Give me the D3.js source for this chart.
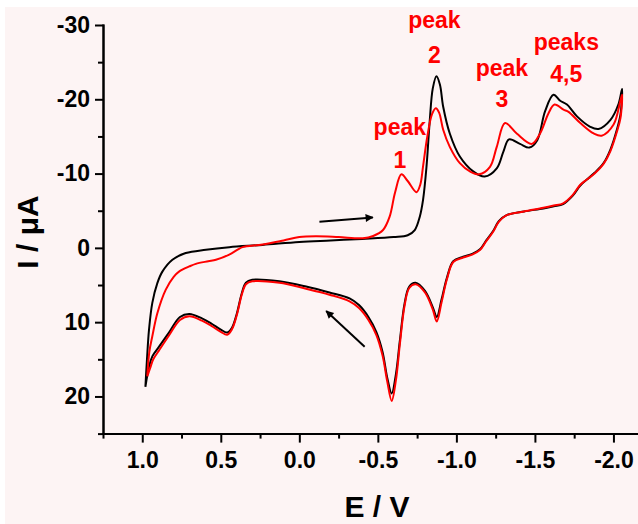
<!DOCTYPE html>
<html>
<head>
<meta charset="utf-8">
<script src="https://cdn.jsdelivr.net/npm/d3@7"></script>
<style>
  html, body { margin: 0; padding: 0; background: #fff; }
  svg { display: block; }
  .axis path, .axis line { stroke: #000; stroke-width: 2; }
  .axis text { font-family: "Liberation Sans", Arial, sans-serif; font-weight: bold; font-size: 23px; fill: #000; }
</style>
</head>
<body>
<svg id="chart" width="638" height="524"></svg>
<script>
// black trace (E / V, I / uA), forward scan then return scan
var blackE = [0.980, 0.970, 0.957, 0.936, 0.904, 0.872, 0.808, 0.723, 0.595, 0.446, 0.234, 0.000, -0.200, -0.400, -0.600, -0.690, -0.735, -0.767, -0.788, -0.810, -0.830, -0.850, -0.873, -0.895, -0.916, -0.958, -1.022, -1.107, -1.180, -1.257, -1.300, -1.335, -1.405, -1.465, -1.515, -1.565, -1.618, -1.661, -1.704, -1.768, -1.852, -1.905, -1.980, -2.033, -2.055,
  -2.045, -2.023, -1.980, -1.937, -1.880, -1.831, -1.789, -1.740, -1.680, -1.620, -1.554, -1.430, -1.320, -1.270, -1.235, -1.190, -1.150, -1.100, -1.043, -0.980, -0.940, -0.905, -0.875, -0.850, -0.800, -0.740, -0.700, -0.670, -0.640, -0.615, -0.588, -0.560, -0.530, -0.490, -0.440, -0.380, -0.320, -0.192, -0.043, 0.127, 0.300, 0.340, 0.365, 0.400, 0.430, 0.460, 0.500, 0.560, 0.620, 0.700, 0.760, 0.830, 0.893, 0.936, 0.957, 0.980];
var blackI = [18.7, 15.0, 11.0, 7.4, 4.75, 3.2, 1.6, 0.7, 0.25, -0.1, -0.4, -0.8, -1.0, -1.2, -1.45, -1.7, -2.4, -4.2, -6.5, -11.0, -17.0, -21.5, -23.1, -22.0, -19.0, -15.4, -12.3, -10.3, -9.6, -10.7, -13.0, -14.6, -14.0, -13.5, -14.5, -18.4, -20.6, -19.8, -19.3, -17.7, -16.3, -16.0, -17.2, -19.4, -21.4,
  -18.0, -16.0, -13.2, -11.4, -10.1, -9.2, -8.4, -7.0, -5.9, -5.6, -5.3, -4.9, -4.4, -3.6, -2.3, -1.0, 0.2, 0.8, 1.2, 1.8, 4.0, 7.0, 9.3, 8.0, 5.8, 4.7, 5.2, 7.5, 12.5, 17.0, 19.6, 17.5, 14.0, 11.3, 9.3, 7.7, 6.8, 6.0, 5.2, 4.5, 4.3, 4.7, 6.0, 9.0, 10.8, 11.4, 11.0, 10.2, 9.5, 8.9, 9.3, 11.4, 13.3, 14.6, 16.0, 18.7];

// red trace
var redE = [0.968, 0.955, 0.936, 0.904, 0.851, 0.800, 0.766, 0.700, 0.659, 0.580, 0.531, 0.446, 0.390, 0.361, 0.234, 0.100, 0.000, -0.107, -0.250, -0.405, -0.470, -0.533, -0.575, -0.610, -0.650, -0.690, -0.746, -0.770, -0.788, -0.815, -0.845, -0.869, -0.890, -0.916, -0.958, -1.022, -1.086, -1.145, -1.214, -1.257, -1.310, -1.384, -1.480, -1.533, -1.586, -1.625, -1.682, -1.714, -1.789, -1.874, -1.925, -2.001, -2.044, -2.055,
  -2.045, -2.023, -1.980, -1.937, -1.880, -1.831, -1.789, -1.740, -1.680, -1.620, -1.554, -1.430, -1.320, -1.270, -1.235, -1.190, -1.150, -1.100, -1.043, -0.980, -0.940, -0.905, -0.875, -0.850, -0.800, -0.740, -0.700, -0.670, -0.640, -0.615, -0.588, -0.560, -0.530, -0.490, -0.440, -0.380, -0.320, -0.192, -0.043, 0.127, 0.300, 0.340, 0.365, 0.400, 0.430, 0.460, 0.500, 0.560, 0.620, 0.700, 0.760, 0.830, 0.893, 0.930, 0.950, 0.968];
var redI = [17.3, 14.0, 11.9, 8.8, 5.65, 3.9, 3.2, 2.5, 2.15, 1.8, 1.6, 0.9, 0.2, -0.1, -0.45, -1.0, -1.45, -1.55, -1.45, -1.3, -1.6, -2.4, -4.2, -7.5, -9.9, -9.0, -7.5, -8.5, -11.0, -15.0, -18.0, -18.8, -18.2, -15.9, -13.6, -11.4, -10.3, -9.9, -10.9, -13.6, -16.8, -15.4, -14.0, -15.4, -18.1, -19.3, -18.6, -18.3, -16.8, -15.4, -15.1, -16.6, -19.8, -20.6,
  -17.5, -15.7, -13.0, -11.3, -10.0, -9.2, -8.5, -7.1, -6.0, -5.7, -5.4, -4.9, -4.4, -3.5, -2.2, -0.9, 0.3, 0.9, 1.3, 1.9, 4.2, 7.4, 9.9, 8.3, 6.0, 4.9, 5.4, 7.8, 13.0, 17.8, 20.6, 18.0, 14.5, 11.7, 9.7, 8.1, 7.2, 6.3, 5.5, 4.7, 4.5, 4.9, 6.2, 9.2, 11.0, 11.7, 11.3, 10.5, 9.8, 9.2, 9.7, 11.8, 13.8, 15.0, 16.2, 17.3];

var xMajor = [1.0, 0.5, 0.0, -0.5, -1.0, -1.5, -2.0];
var xMinor = [1.25, 0.75, 0.25, -0.25, -0.75, -1.25, -1.75];
var yMajor = [-30, -20, -10, 0, 10, 20];
var yMinor = [-25, -15, -5, 5, 15, 25];

// peak labels
var peakE = [-0.64, -0.86, -1.29, -1.70];
var peakI1 = [-15.2, -29.6, -23.1, -26.6];
var peakI2 = [-10.8, -24.9, -18.9, -22.3];
var peakText1 = ["peak", "peak", "peak", "peaks"];
var peakText2 = ["1", "2", "3", "4,5"];

// scan direction arrows: [E0, I0, E1, I1]
var arrows = [[-0.128, -3.5, -0.468, -4.1], [-0.416, 13.3, -0.171, 8.5]];

var svg = d3.select("#chart");
var W = 638, H = 524;

svg.append("rect").attr("x", 5).attr("y", 7).attr("width", W - 5).attr("height", H - 7).attr("fill", "#fdf4f4");

var x = d3.scaleLinear().domain([1.25, -2.15]).range([103, 637]);
var y = d3.scaleLinear().domain([-30, 25]).range([25, 433.6]);

var fmtX = function (d) { return d3.format(".1f")(d).replace("\u2212", "-"); };
var fmtY = function (d) { return String(d); };

// minor ticks
svg.append("g").attr("class", "axis").attr("transform", "translate(0," + y(25) + ")")
    .call(d3.axisBottom(x).tickValues(xMinor).tickSize(5).tickSizeOuter(0).tickFormat(""));
svg.append("g").attr("class", "axis").attr("transform", "translate(" + x(1.25) + ",0)")
    .call(d3.axisLeft(y).tickValues(yMinor).tickSize(5).tickSizeOuter(0).tickFormat(""));

// major ticks
svg.append("g").attr("class", "axis").attr("transform", "translate(0," + y(25) + ")")
    .call(d3.axisBottom(x).tickValues(xMajor).tickSize(9).tickPadding(9).tickSizeOuter(0).tickFormat(fmtX));
svg.append("g").attr("class", "axis").attr("transform", "translate(" + x(1.25) + ",0)")
    .call(d3.axisLeft(y).tickValues(yMajor).tickSize(8).tickPadding(5).tickSizeOuter(0).tickFormat(fmtY));

svg.selectAll(".axis path").attr("stroke-linecap", "square");

// axis titles
svg.append("text").attr("x", 377).attr("y", 517).attr("text-anchor", "middle")
    .style("font-family", "'Liberation Sans', Arial, sans-serif").style("font-weight", "bold").style("font-size", "30px")
    .text("E / V");
svg.append("text").attr("transform", "translate(38,232) rotate(-90)").attr("text-anchor", "middle")
    .style("font-family", "'Liberation Sans', Arial, sans-serif").style("font-weight", "bold").style("font-size", "30px")
    .text("I / \u03bcA");

var line = d3.line()
    .x(function (d) { return x(d[0]); })
    .y(function (d) { return y(d[1]); })
    .curve(d3.curveCatmullRom.alpha(0.5));

var black = blackE.map(function (e, i) { return [e, blackI[i]]; });
var red = redE.map(function (e, i) { return [e, redI[i]]; });

svg.append("path").datum(black).attr("d", line)
    .attr("fill", "none").attr("stroke", "#000").attr("stroke-width", 2);
svg.append("path").datum(red).attr("d", line)
    .attr("fill", "none").attr("stroke", "#ff0000").attr("stroke-width", 2);

// arrows
svg.append("defs").append("marker")
    .attr("id", "head").attr("viewBox", "0 0 10 10").attr("refX", 9).attr("refY", 5)
    .attr("markerWidth", 14).attr("markerHeight", 8).attr("markerUnits", "userSpaceOnUse")
    .attr("orient", "auto")
    .append("path").attr("d", "M0,0L10,5L0,10Z").attr("fill", "#000");

svg.selectAll(".arrow").data(arrows).enter().append("line")
    .attr("class", "arrow")
    .attr("x1", function (d) { return x(d[0]); })
    .attr("y1", function (d) { return y(d[1]); })
    .attr("x2", function (d) { return x(d[2]); })
    .attr("y2", function (d) { return y(d[3]); })
    .attr("stroke", "#000").attr("stroke-width", 2)
    .attr("marker-end", "url(#head)");

// peak labels
var lab = svg.append("g")
    .style("font-family", "'Liberation Sans', Arial, sans-serif").style("font-weight", "bold")
    .style("font-size", "23px").attr("fill", "#ff0000").attr("text-anchor", "middle");
peakE.forEach(function (e, i) {
    lab.append("text").attr("x", x(e)).attr("y", y(peakI1[i])).text(peakText1[i]);
    lab.append("text").attr("x", x(e)).attr("y", y(peakI2[i])).text(peakText2[i]);
});
</script>
</body>
</html>
